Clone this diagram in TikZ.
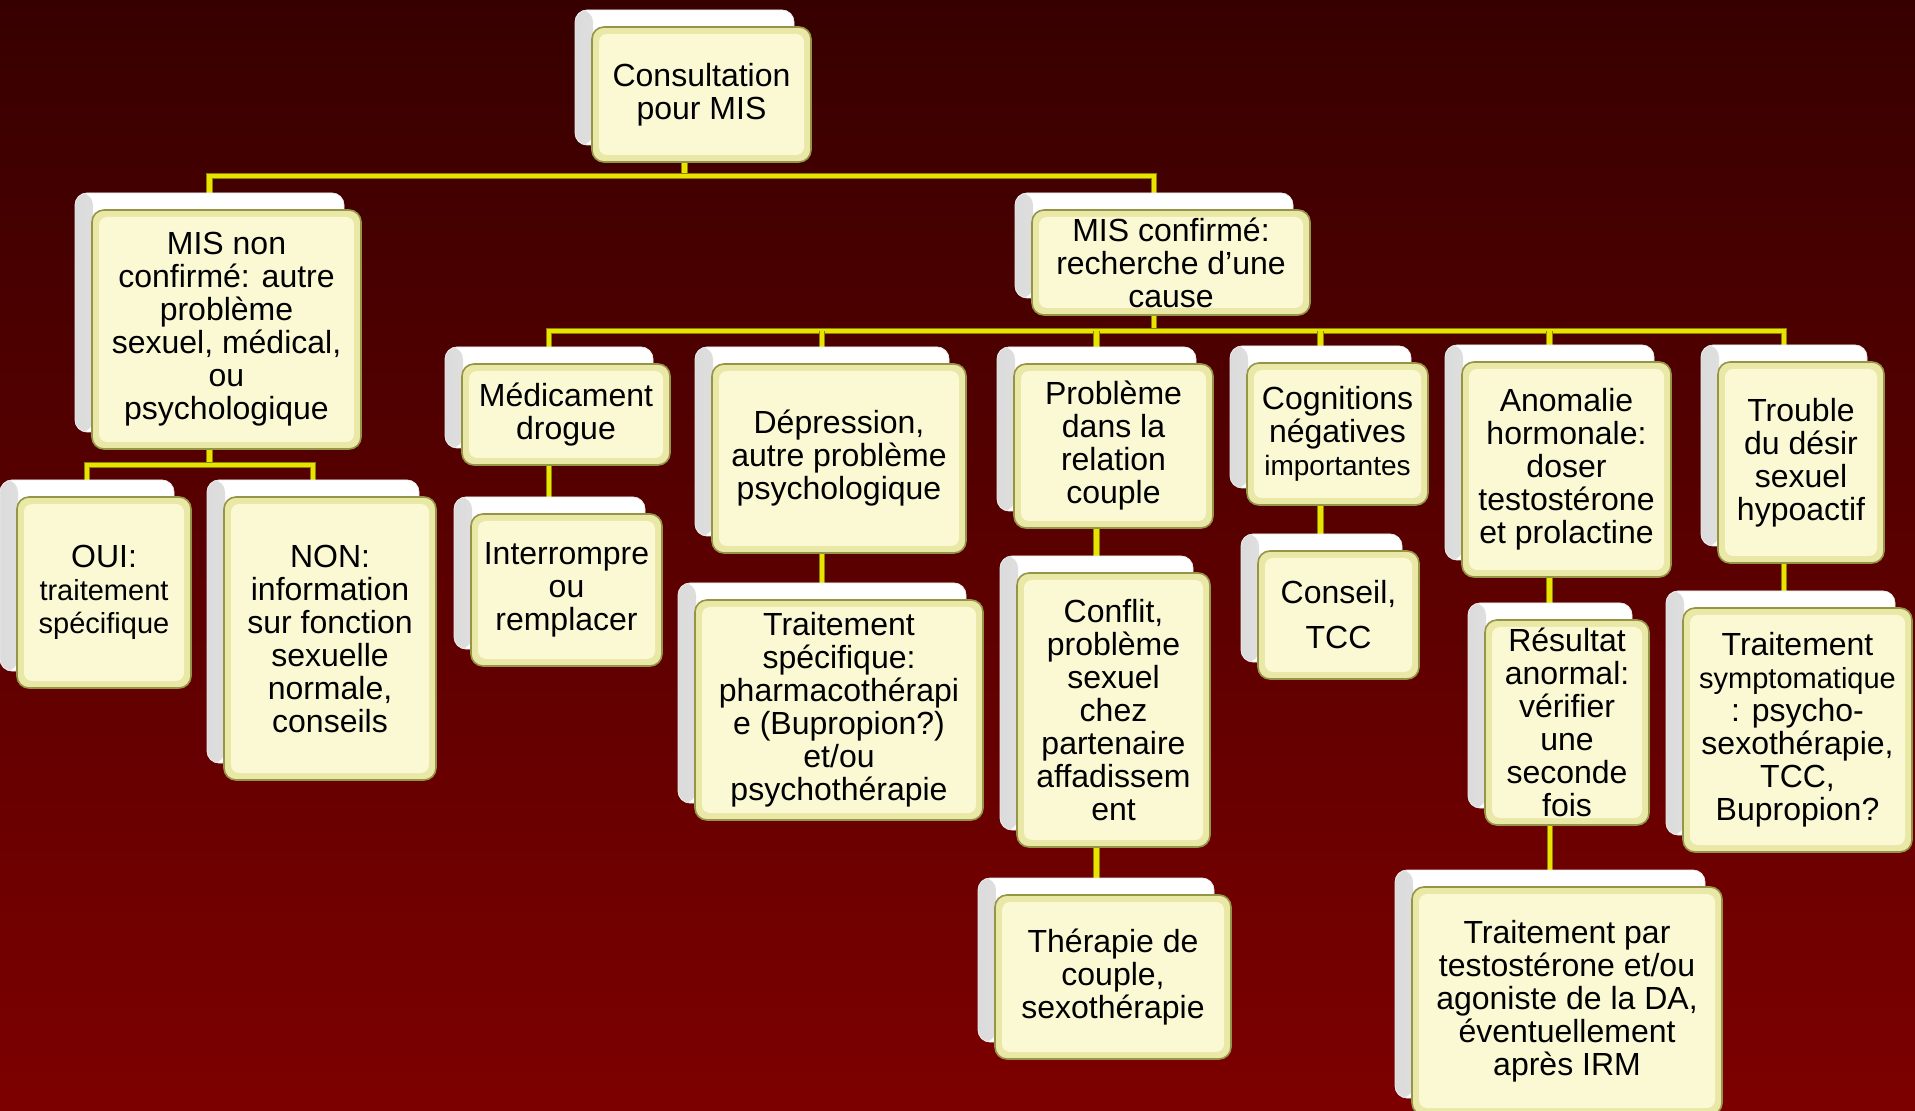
\documentclass[tikz,border=0pt]{standalone}
\usepackage{fontspec}
\setmainfont{Liberation Sans}
\pgfdeclarelayer{bg}
\pgfdeclarelayer{background}
\pgfsetlayers{bg,background,main}
\definecolor{bgtop}{RGB}{55,0,0}
\definecolor{bgmid}{RGB}{100,0,0}
\definecolor{bgbot}{RGB}{125,0,0}
\definecolor{lineyel}{RGB}{232,228,0}
\definecolor{lineedge}{RGB}{140,132,0}
\definecolor{creamlight}{RGB}{250,249,212}
\definecolor{creamedge}{RGB}{234,232,166}
\definecolor{oliveline}{RGB}{150,148,70}
\newcommand\smallfs{\fontsize{14.5}{16.5}\selectfont}
\tikzset{
  conn/.style={draw=lineyel, line width=2.2pt, line join=miter,
    preaction={draw=lineedge, line width=3.4pt}},
  backbox/.style={rounded corners=6pt, fill=white, draw=black!8, line width=0.4pt,
    inner sep=0pt,
    path picture={\shade[left color=black!14, right color=white]
      (path picture bounding box.south west) rectangle
      ([xshift=9pt]path picture bounding box.north west);}},
  frontbox/.style={rounded corners=6pt, fill=creamedge, draw=oliveline, line width=0.8pt,
    inner sep=0pt, align=center, text=black,
    font=\fontsize{16}{16.5}\selectfont,
    execute at begin node={\rule{0pt}{14.5pt}},
    path picture={\fill[creamlight, rounded corners=4pt]
      ([shift={(3.5pt,-3.5pt)}]path picture bounding box.north west) rectangle
      ([shift={(-3.5pt,3.5pt)}]path picture bounding box.south east);}},
}
\newcommand\bx[6]{%
  \pgfmathsetmacro\bw{(#4-#2)*0.5}%
  \pgfmathsetmacro\bh{(#5-#3)*0.5}%
  \pgfmathsetmacro\cx{(#2+#4)/2}%
  \pgfmathsetmacro\cy{(#3+#5)/2}%
  \node[backbox, minimum width=\bw pt, minimum height=\bh pt] (#1) at (\cx-17,\cy-17) {};
  \node[frontbox, minimum width=\bw pt, minimum height=\bh pt] (#1-f) at (\cx,\cy) {#6};
}
\begin{document}
\begin{tikzpicture}[x=0.5pt,y=-0.5pt]
\useasboundingbox (0,0) rectangle (1915,1111);
\begin{pgfonlayer}{bg}
  \shade[top color=bgtop, middle color=bgmid, bottom color=bgbot] (0,0) rectangle (1915,1111);
\end{pgfonlayer}

\bx{cons}{592}{27}{811}{162}{Consultation\\pour MIS}
\bx{misnon}{92}{210}{361}{449}{MIS non\\confirmé: autre\\problème\\sexuel, médical,\\ou\\psychologique}
\bx{miscon}{1032}{210}{1310}{315}{MIS confirmé:\\recherche d’une\\cause}
\bx{medic}{462}{364}{670}{465}{Médicament\\drogue}
\bx{depr}{712}{364}{966}{553}{Dépression,\\autre problème\\psychologique}
\bx{prob}{1014}{364}{1213}{528}{Problème\\dans la\\relation\\couple}
\bx{cogn}{1247}{363}{1428}{505}{Cognitions\\négatives\\{\fontsize{14}{16.5}\selectfont importantes}}
\bx{anom}{1462}{362}{1671}{577}{Anomalie\\hormonale:\\doser\\testostérone\\et prolactine}
\bx{troub}{1718}{362}{1884}{563}{Trouble\\du désir\\sexuel\\hypoactif}
\bx{oui}{17}{497}{191}{688}{OUI:\\{\smallfs traitement}\\{\smallfs spécifique}}
\bx{non}{224}{497}{436}{780}{NON:\\information\\sur fonction\\sexuelle\\normale,\\conseils}
\bx{inter}{471}{514}{662}{666}{Interrompre\\ou\\remplacer}
\bx{trspec}{695}{600}{983}{820}{Traitement\\spécifique:\\pharmacothérapi\\e (Bupropion?)\\et/ou\\psychothérapie}
\bx{confl}{1017}{573}{1210}{847}{Conflit,\\problème\\sexuel\\chez\\partenaire\\affadissem\\ent}
\bx{conseil}{1258}{551}{1419}{679}{Conseil,\\[6pt]TCC}
\bx{res}{1485}{620}{1649}{825}{Résultat\\anormal:\\vérifier\\une\\seconde\\fois}
\bx{trsympt}{1683}{608}{1912}{852}{Traitement\\{\smallfs symptomatique}\\: psycho-\\sexothérapie,\\TCC,\\Bupropion?}
\bx{ther}{995}{895}{1231}{1059}{Thérapie de\\couple,\\sexothérapie}
\bx{trpar}{1412}{887}{1722}{1115}{Traitement par\\testostérone et/ou\\agoniste de la DA,\\éventuellement\\après IRM}

\coordinate (bus1) at (0,176);
\coordinate (bus2) at (0,465);
\coordinate (bus3) at (0,331);

\begin{pgfonlayer}{background}
  \draw[conn] (cons.south) -- (cons.south |- bus1);
  \draw[conn] (misnon.north) -- (misnon.north |- bus1) -- (miscon.north |- bus1) -- (miscon.north);
  \draw[conn] (misnon.south) -- (misnon.south |- bus2);
  \draw[conn] (oui.north) -- (oui.north |- bus2) -- (non.north |- bus2) -- (non.north);
  \draw[conn] (miscon.south) -- (miscon.south |- bus3);
  \draw[conn] (medic.north) -- (medic.north |- bus3) -- (troub.north |- bus3) -- (troub.north);
  \draw[conn] (depr.north) -- (depr.north |- bus3);
  \draw[conn] (prob.north) -- (prob.north |- bus3);
  \draw[conn] (cogn.north) -- (cogn.north |- bus3);
  \draw[conn] (anom.north) -- (anom.north |- bus3);
  \draw[conn] (medic.south) -- (medic.south |- inter.north);
  \draw[conn] (depr.south) -- (depr.south |- trspec.north);
  \draw[conn] (prob.south) -- (prob.south |- confl.north);
  \draw[conn] (confl.south) -- (confl.south |- ther.north);
  \draw[conn] (cogn.south) -- (cogn.south |- conseil.north);
  \draw[conn] (anom.south) -- (anom.south |- res.north);
  \draw[conn] (res.south) -- (res.south |- trpar.north);
  \draw[conn] (troub.south) -- (troub.south |- trsympt.north);
\end{pgfonlayer}
\end{tikzpicture}
\end{document}
